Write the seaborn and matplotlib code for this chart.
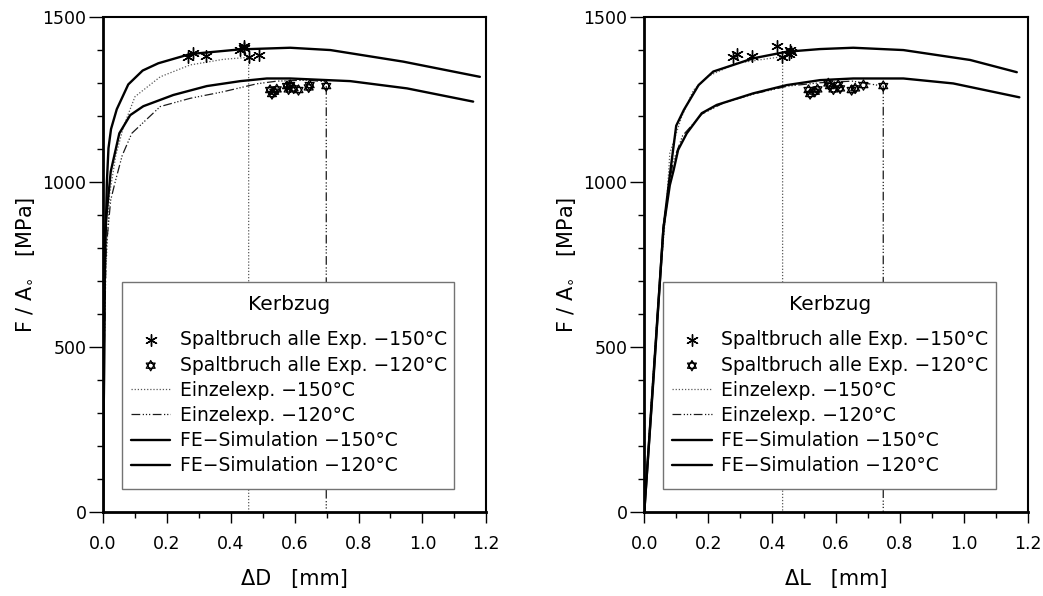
import matplotlib
matplotlib.use("Agg")
import matplotlib.pyplot as plt
import numpy as np
import seaborn as sns
from matplotlib.path import Path
from matplotlib.patches import Rectangle
from matplotlib.ticker import MultipleLocator, FormatStrFormatter

sns.set_style("ticks")
plt.rcParams["font.family"] = ["DejaVu Sans"]
plt.rcParams["text.color"] = "black"
plt.rcParams["axes.labelcolor"] = "black"
plt.rcParams["xtick.color"] = "black"
plt.rcParams["ytick.color"] = "black"

# ---------------- notch tension (Kerbzug), diameter change ΔD ----------------
d_fe150_x = [0, 0.005, 0.012, 0.017, 0.025, 0.043, 0.079, 0.124, 0.173, 0.273, 0.429, 0.586, 0.712, 0.94, 1.18]
d_fe150_y = [0, 700, 1000, 1102, 1160, 1220, 1295, 1337, 1359, 1387, 1401, 1406, 1399, 1364, 1318]
d_fe120_x = [0, 0.006, 0.024, 0.051, 0.085, 0.126, 0.22, 0.325, 0.43, 0.513, 0.586, 0.774, 0.952, 1.159]
d_fe120_y = [0, 850, 1031, 1147, 1202, 1229, 1263, 1290, 1305, 1313, 1313, 1305, 1283, 1243]
d_ex150_x = [0, 0.005, 0.02, 0.04, 0.064, 0.1, 0.179, 0.273, 0.377, 0.456, 0.456]
d_ex150_y = [0, 650, 960, 1080, 1167, 1258, 1318, 1354, 1371, 1377, 0]
d_ex120_x = [0, 0.004, 0.01, 0.024, 0.038, 0.06, 0.09, 0.179, 0.273, 0.377, 0.482, 0.545, 0.639, 0.699, 0.699]
d_ex120_y = [0, 500, 800, 945, 1000, 1080, 1147, 1228, 1253, 1273, 1297, 1305, 1308, 1303, 0]
d_sp150_x = [0.265, 0.283, 0.323, 0.429, 0.44, 0.442, 0.456, 0.487]
d_sp150_y = [1379, 1389, 1381, 1399, 1404, 1412, 1379, 1384]
d_sp120_x = [0.523, 0.529, 0.536, 0.544, 0.576, 0.581, 0.586, 0.597, 0.612, 0.644, 0.647, 0.699]
d_sp120_y = [1278, 1266, 1273, 1280, 1290, 1280, 1293, 1283, 1278, 1286, 1293, 1290]

# ---------------- notch tension (Kerbzug), elongation ΔL ----------------
l_fe150_x = [0, 0.03, 0.06, 0.08, 0.1, 0.124, 0.17, 0.216, 0.341, 0.446, 0.55, 0.654, 0.811, 1.02, 1.166]
l_fe150_y = [0, 420, 860, 1020, 1170, 1218, 1293, 1334, 1374, 1394, 1402, 1406, 1399, 1369, 1332]
l_fe120_x = [0, 0.03, 0.06, 0.08, 0.092, 0.106, 0.133, 0.18, 0.227, 0.341, 0.446, 0.55, 0.654, 0.811, 0.967, 1.174]
l_fe120_y = [0, 430, 860, 990, 1036, 1097, 1147, 1208, 1233, 1268, 1293, 1308, 1313, 1313, 1298, 1256]
l_ex150_x = [0, 0.025, 0.049, 0.07, 0.08, 0.117, 0.154, 0.2, 0.289, 0.38, 0.433, 0.433]
l_ex150_y = [0, 380, 703, 935, 1087, 1197, 1278, 1320, 1359, 1372, 1379, 0]
l_ex120_x = [0, 0.03, 0.06, 0.09, 0.12, 0.18, 0.25, 0.35, 0.45, 0.55, 0.65, 0.748, 0.748]
l_ex120_y = [0, 440, 870, 1060, 1140, 1205, 1240, 1268, 1290, 1300, 1305, 1290, 0]
l_sp150_x = [0.277, 0.289, 0.336, 0.417, 0.432, 0.452, 0.456, 0.46]
l_sp150_y = [1379, 1387, 1381, 1412, 1379, 1387, 1399, 1393]
l_sp120_x = [0.514, 0.519, 0.534, 0.542, 0.576, 0.581, 0.592, 0.607, 0.613, 0.649, 0.66, 0.686, 0.748]
l_sp120_y = [1278, 1266, 1273, 1280, 1298, 1290, 1280, 1293, 1283, 1278, 1283, 1293, 1290]

labels = [
    "Spaltbruch alle Exp. \u2212150°C",
    "Spaltbruch alle Exp. \u2212120°C",
    "Einzelexp. \u2212150°C",
    "Einzelexp. \u2212120°C",
    "FE\u2212Simulation \u2212150°C",
    "FE\u2212Simulation \u2212120°C",
]

# hexagram (two overlapping triangles) marker
_verts = [(0, 1), (-0.866, -0.5), (0.866, -0.5), (0, 1),
          (0, -1), (0.866, 0.5), (-0.866, 0.5), (0, -1)]
_codes = [Path.MOVETO, Path.LINETO, Path.LINETO, Path.CLOSEPOLY] * 2
hexagram = Path(_verts, _codes)
asterisk = (6, 2, 0)


def draw_panel(ax, fe150, fe120, ex150, ex120, sp150, sp120, xlabel):
    sns.lineplot(x=ex150[0], y=ex150[1], ax=ax, sort=False, estimator=None,
                 color="0.35", linewidth=0.9, linestyle=(0, (1, 1.5)), label=labels[2])
    sns.lineplot(x=ex120[0], y=ex120[1], ax=ax, sort=False, estimator=None,
                 color="0.1", linewidth=0.9, linestyle=(0, (7, 2, 1, 1.5, 1, 1.5, 1, 2)),
                 label=labels[3])
    sns.lineplot(x=fe150[0], y=fe150[1], ax=ax, sort=False, estimator=None,
                 color="black", linewidth=1.7, label=labels[4])
    sns.lineplot(x=fe120[0], y=fe120[1], ax=ax, sort=False, estimator=None,
                 color="black", linewidth=1.7, label=labels[5])
    sns.scatterplot(x=sp150[0], y=sp150[1], ax=ax, marker=asterisk, s=70,
                    color="black", linewidth=1.0, label=labels[0], zorder=4)
    sns.scatterplot(x=sp120[0], y=sp120[1], ax=ax, marker=hexagram, s=55,
                    facecolor="none", edgecolor="black", linewidth=0.9,
                    label=labels[1], zorder=4)

    ax.set_xlim(0, 1.2)
    ax.set_ylim(0, 1500)
    ax.xaxis.set_major_locator(MultipleLocator(0.2))
    ax.xaxis.set_minor_locator(MultipleLocator(0.1))
    ax.xaxis.set_major_formatter(FormatStrFormatter("%.1f"))
    ax.yaxis.set_major_locator(MultipleLocator(500))
    ax.yaxis.set_minor_locator(MultipleLocator(100))
    ax.tick_params(axis="both", which="both", direction="out", width=1.0,
                   labelsize=12.5, colors="black")
    ax.tick_params(axis="y", which="major", length=10, pad=2)
    ax.tick_params(axis="x", which="major", length=8, pad=8)
    ax.tick_params(axis="both", which="minor", length=4.5)
    for side, sp in ax.spines.items():
        sp.set_visible(True)
        sp.set_color("black")
        sp.set_linewidth(1.5)
    ax.spines["left"].set_linewidth(2.0)
    ax.spines["bottom"].set_linewidth(2.0)

    ax.set_xlabel(xlabel, fontsize=15, labelpad=12)
    ax.set_ylabel("F / A$_{\\circ}$   [MPa]", fontsize=15, labelpad=4)

    # legend frame with white fill covering the curves
    ax.add_patch(Rectangle((0.05, 0.048), 0.867, 0.417, transform=ax.transAxes,
                           facecolor="white", edgecolor="0.45", linewidth=1.0, zorder=5))
    handles, labs = ax.get_legend_handles_labels()
    lookup = dict(zip(labs, handles))
    leg = ax.legend([lookup[l] for l in labels], labels, title="Kerbzug",
                    loc="upper left", bbox_to_anchor=(0.073, 0.439),
                    frameon=False, fontsize=13.5, title_fontsize=14.5,
                    handlelength=2.1, handletextpad=0.5, labelspacing=0.33,
                    borderpad=0, borderaxespad=0)
    leg.set_zorder(6)
    leg._legend_box.sep = 12


fig = plt.figure(figsize=(10.43, 5.96), dpi=100)
ax1 = fig.add_axes([0.0988, 0.1404, 0.3674, 0.8316])
ax2 = fig.add_axes([0.6177, 0.1404, 0.3676, 0.8316])

draw_panel(ax1, (d_fe150_x, d_fe150_y), (d_fe120_x, d_fe120_y),
           (d_ex150_x, d_ex150_y), (d_ex120_x, d_ex120_y),
           (d_sp150_x, d_sp150_y), (d_sp120_x, d_sp120_y), "\u0394D   [mm]")
draw_panel(ax2, (l_fe150_x, l_fe150_y), (l_fe120_x, l_fe120_y),
           (l_ex150_x, l_ex150_y), (l_ex120_x, l_ex120_y),
           (l_sp150_x, l_sp150_y), (l_sp120_x, l_sp120_y), "\u0394L   [mm]")

fig.savefig("out.png", dpi=100)
